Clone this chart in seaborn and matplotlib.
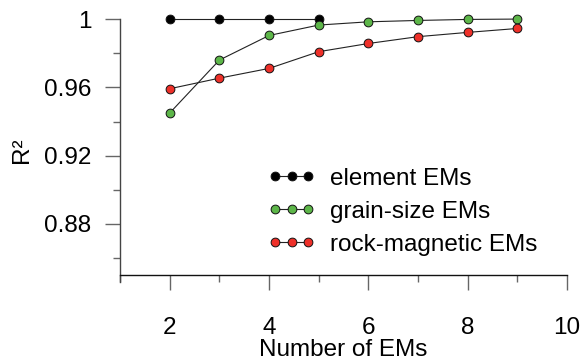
import matplotlib
matplotlib.use("Agg")
import matplotlib.pyplot as plt
import seaborn as sns
import pandas as pd
from matplotlib.ticker import FixedLocator

# Goodness of fit (R²) against the number of end-members
n_element = [2, 3, 4, 5]
r2_element = [1.0, 1.0, 1.0, 1.0]

n_grain = [2, 3, 4, 5, 6, 7, 8, 9]
r2_grain = [0.945, 0.976, 0.9904, 0.9965, 0.9984, 0.9992, 0.9998, 1.0]

n_rock = [2, 3, 4, 5, 6, 7, 8, 9]
r2_rock = [0.9592, 0.9654, 0.9711, 0.9809, 0.9857, 0.9897, 0.9922, 0.9945]

x_ticks = [2, 4, 6, 8, 10]
y_ticks = [0.88, 0.92, 0.96, 1.0]
y_tick_labels = ["0.88", "0.92", "0.96", "1"]

series = [
    ("element EMs", n_element, r2_element, "#000000"),
    ("grain-size EMs", n_grain, r2_grain, "#5DB649"),
    ("rock-magnetic EMs", n_rock, r2_rock, "#EE3029"),
]

sns.set_style("white")
plt.rcParams["font.family"] = ["Liberation Sans", "DejaVu Sans"]
plt.rcParams["text.color"] = "black"
plt.rcParams["axes.labelcolor"] = "black"
plt.rcParams["xtick.color"] = "black"
plt.rcParams["ytick.color"] = "black"

FS = 17.5

fig = plt.figure(figsize=(5.83, 3.6), dpi=100)
ax = fig.add_axes([0.206, 0.2167, 0.7666, 0.7303])

for label, xs, ys, face in series:
    df = pd.DataFrame({"n": xs, "r2": ys})
    sns.lineplot(data=df, x="n", y="r2", ax=ax, color="#222222", lw=0.8,
                 marker="o", markersize=6.3, markerfacecolor=face,
                 markeredgecolor="#111111", markeredgewidth=0.7,
                 label=label, clip_on=False, zorder=3)

ax.set_xlim(1, 10)
ax.set_ylim(0.846, 1.0)

ax.xaxis.set_major_locator(FixedLocator(x_ticks))
ax.xaxis.set_minor_locator(FixedLocator([1, 3, 5, 7, 9]))
ax.yaxis.set_major_locator(FixedLocator(y_ticks))
ax.yaxis.set_minor_locator(FixedLocator([0.86, 0.90, 0.94, 0.98]))
ax.set_yticklabels(y_tick_labels)
ax.set_xticklabels([str(v) for v in x_ticks])

for side in ("top", "right"):
    ax.spines[side].set_visible(False)
ax.spines["bottom"].set_position(("data", 0.85))
ax.spines["bottom"].set_color("#111111")
ax.spines["left"].set_color("#444444")
ax.spines["bottom"].set_linewidth(1.0)
ax.spines["left"].set_linewidth(1.0)

ax.tick_params(axis="both", which="both", bottom=True, left=True,
               direction="out")
ax.tick_params(axis="both", which="major", length=10.8, width=1.0,
               color="#666666", labelsize=FS, labelcolor="black")
ax.tick_params(axis="both", which="minor", length=5.3, width=1.0,
               color="#666666")
ax.tick_params(axis="x", which="major", pad=19)
ax.tick_params(axis="y", which="major", pad=10)

ax.set_xlabel("Number of EMs", fontsize=FS, labelpad=0)
ax.set_ylabel("R²", fontsize=FS, labelpad=8)

leg = ax.legend(loc="upper left", bbox_to_anchor=(0.331, 0.435), numpoints=3,
                frameon=False, fontsize=FS, handlelength=1.95,
                handletextpad=0.6, labelspacing=0.45, borderaxespad=0,
                borderpad=0)

fig.savefig("out.png", dpi=100)
